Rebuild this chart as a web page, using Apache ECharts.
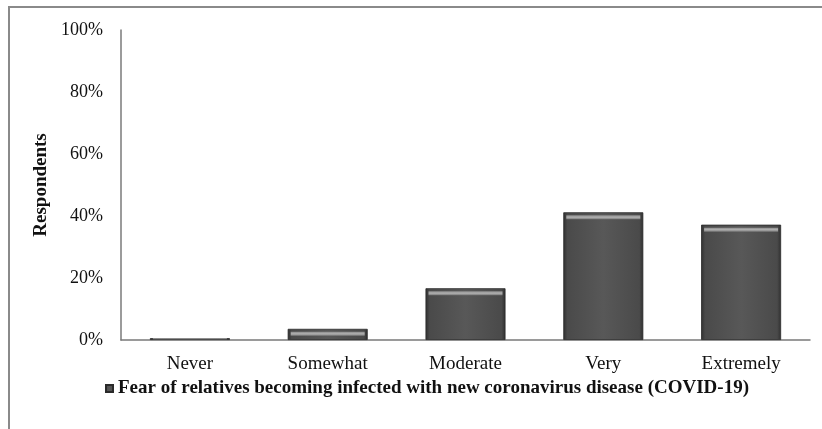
<!DOCTYPE html>
<html>
<head>
<meta charset="utf-8">
<script src="https://cdn.jsdelivr.net/npm/echarts@6/dist/echarts.min.js"></script>
<style>
html,body{margin:0;padding:0;background:#fff;}
#c{width:822px;height:429px;}
</style>
</head>
<body>
<div id="c"></div>
<script>
const categories = ['Never', 'Somewhat', 'Moderate', 'Very', 'Extremely'];
const values = [0.6, 3.6, 16.7, 41.2, 37.2];
const yTicks = [0, 20, 40, 60, 80, 100];
const seriesName = 'Fear of relatives becoming infected with new coronavirus disease (COVID-19)';
const yAxisName = 'Respondents';

const serif = '"Liberation Serif", "DejaVu Serif", serif';
const chart = echarts.init(document.getElementById('c'), null, {renderer: 'canvas'});

const barGrad = new echarts.graphic.LinearGradient(0, 0, 1, 0, [
  {offset: 0, color: '#2f2f2f'},
  {offset: 0.05, color: '#4a4a4a'},
  {offset: 0.5, color: '#585858'},
  {offset: 0.95, color: '#4a4a4a'},
  {offset: 1, color: '#2f2f2f'}
]);
const bevelGrad = new echarts.graphic.LinearGradient(0, 0, 0, 1, [
  {offset: 0, color: '#8c8c8c'},
  {offset: 0.5, color: '#b0b0b0'},
  {offset: 1, color: '#7a7a7a'}
]);

chart.setOption({
  animation: false,
  backgroundColor: '#fff',
  graphic: [{
    type: 'rect',
    shape: {x: 9, y: 7, width: 840, height: 450},
    style: {fill: 'none', stroke: '#8a8a8a', lineWidth: 2},
    silent: true,
    z: 0
  }],
  grid: {left: 121, right: 12, top: 30, bottom: 89, containLabel: false},
  legend: {
    data: [{name: seriesName, icon: 'rect'}],
    top: 374,
    left: 100,
    itemWidth: 7,
    itemHeight: 7,
    itemGap: 4,
    textStyle: {fontFamily: serif, fontWeight: 'bold', fontSize: 19, color: '#111'}
  },
  xAxis: {
    type: 'category',
    data: categories,
    axisLine: {show: true, lineStyle: {color: '#7a7a7a', width: 1.5}},
    axisTick: {show: false},
    axisLabel: {fontFamily: serif, fontSize: 19, color: '#111', margin: 15}
  },
  yAxis: {
    type: 'value',
    min: 0,
    max: 100,
    interval: 20,
    name: yAxisName,
    nameLocation: 'middle',
    nameGap: 70,
    nameTextStyle: {fontFamily: serif, fontWeight: 'bold', fontSize: 19, color: '#111'},
    axisLine: {show: true, lineStyle: {color: '#7a7a7a', width: 1.5}},
    axisTick: {show: false},
    splitLine: {show: false},
    axisLabel: {
      fontFamily: serif, fontSize: 18, color: '#111', margin: 18,
      formatter: function (v) { return yTicks.indexOf(v) >= 0 ? v + '%' : ''; }
    }
  },
  series: [{
    name: seriesName,
    type: 'bar',
    data: values,
    barWidth: 80,
    itemStyle: {color: barGrad, borderColor: '#2a2a2a', borderWidth: 0.8},
    z: 2
  }, {
    name: 'bevel',
    type: 'pictorialBar',
    data: values.map(function (v) {
      return {value: v, symbolSize: [74, v < 1 ? 1 : 4], symbolOffset: [0, v < 1 ? 0 : 3]};
    }),
    symbol: 'rect',
    symbolPosition: 'end',
    itemStyle: {color: bevelGrad},
    z: 3,
    silent: true
  }],
  color: ['#6a6a6a']
});
</script>
</body>
</html>
